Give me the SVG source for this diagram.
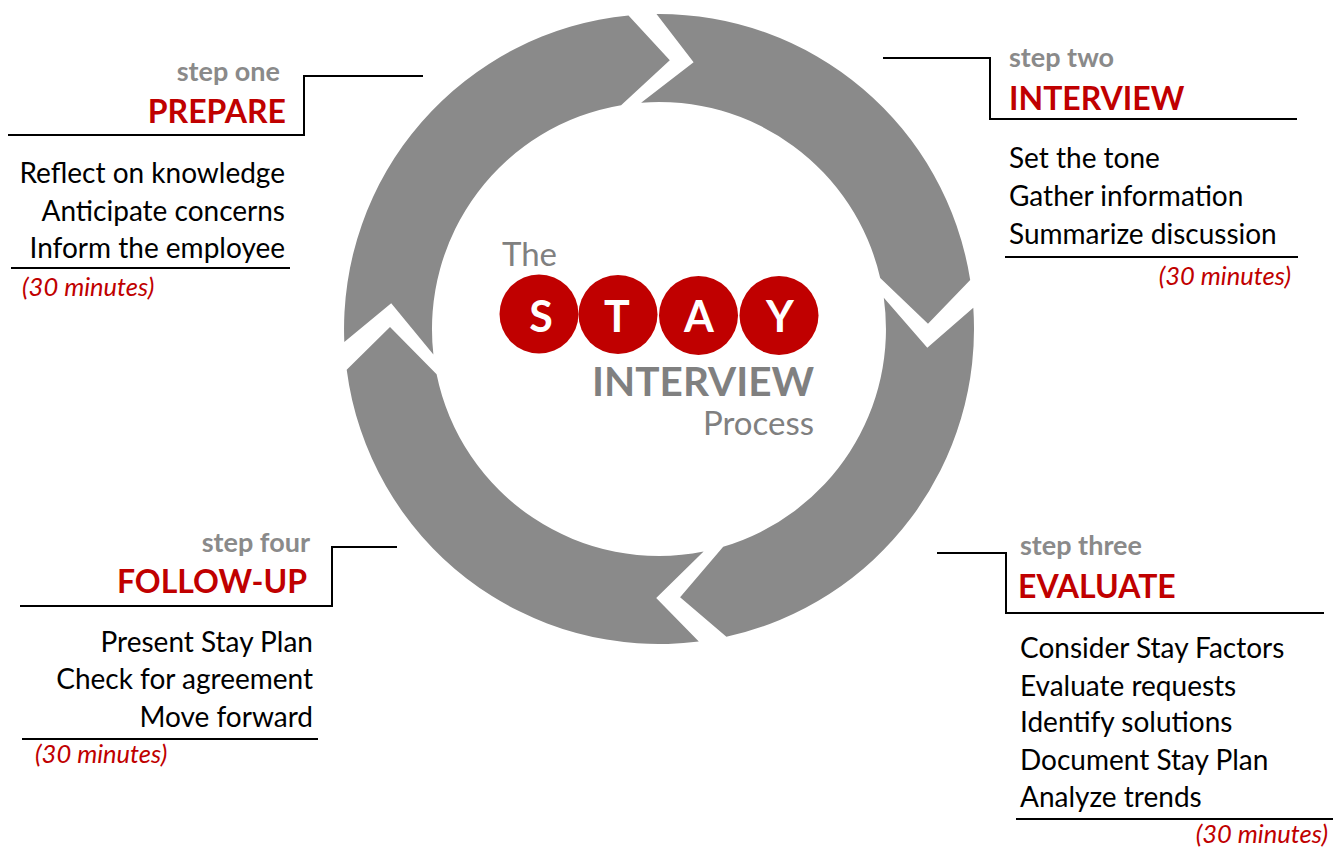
<svg xmlns="http://www.w3.org/2000/svg" width="1340" height="848" viewBox="0 0 1340 848">
<style>
 .seg{fill:#8a8a8a}
 .ln{fill:none;stroke:#000;stroke-width:2}
 text{font-family:Lato,"Open Sans","Liberation Sans",sans-serif}
 .step{font-size:27px;font-weight:700;fill:#8a8a8a}
 .head{font-size:32px;font-weight:700;fill:#c00000}
 .body{font-size:28px;fill:#000}
 .time{font-size:25.5px;font-style:italic;fill:#c00000}
 .r{text-anchor:end}
 .dot{fill:#c00000}
 .let{font-size:43px;font-weight:700;fill:#fff;text-anchor:middle}
 .gray{fill:#808080}
</style>
<rect width="1340" height="848" fill="#fff"/>
<g id="cycle">
 <path id="seg-tr" class="seg" d="M656.5,14.0 A315,315 0 0 1 970.2,280.0 L928.0,323.8 L880.2,277.9 A227,227 0 0 0 641.1,102.7 L693.6,62.2 Z"/>
 <path id="seg-br" class="seg" d="M973.3,307.8 A315,315 0 0 1 726.4,636.7 L680.1,597.2 L723.2,546.7 A227,227 0 0 0 883.8,297.7 L927.3,347.8 Z"/>
 <path id="seg-bl" class="seg" d="M698.8,641.5 A315,315 0 0 1 346.7,369.8 L390.0,327.1 L436.6,374.3 A227,227 0 0 0 703.6,551.6 L656.2,598.0 Z"/>
 <path id="seg-tl" class="seg" d="M344.3,341.9 A315,315 0 0 1 628.5,15.5 L669.8,60.2 L621.1,105.2 A227,227 0 0 0 433.4,354.4 L391.2,303.2 Z"/>
</g>
<g id="title">
 <text x="502" y="266" font-size="33" class="gray">The</text>
 <circle class="dot" cx="539" cy="314" r="39.5"/>
 <circle class="dot" cx="618" cy="314.5" r="39.5"/>
 <circle class="dot" cx="698.5" cy="315.5" r="39.5"/>
 <circle class="dot" cx="779" cy="315.5" r="39.5"/>
 <text class="let" x="541" y="331.5">S</text>
 <text class="let" x="617" y="331.5">T</text>
 <text class="let" x="699" y="331.5">A</text>
 <text class="let" x="780" y="331.5">Y</text>
 <text x="814" y="396" class="r gray" font-size="40.5" font-weight="700">INTERVIEW</text>
 <text x="814" y="435" class="r gray" font-size="33">Process</text>
</g>
<g id="connectors">
 <polyline class="ln" points="8,135 304,135 304,76 423,76"/>
 <polyline class="ln" points="883,58 990,58 990,119 1297,119"/>
 <polyline class="ln" points="20,606 332,606 332,547 397,547"/>
 <polyline class="ln" points="937,553 1006,553 1006,613 1324,613"/>
</g>
<g id="step1">
 <text class="step r" x="280" y="81">step one</text>
 <text class="head r" x="286" y="123">PREPARE</text>
 <text class="body r" x="285" y="183">Reflect on knowledge</text>
 <text class="body r" x="285" y="221">Anticipate concerns</text>
 <text class="body r" x="285" y="258">Inform the employee</text>
 <line class="ln" x1="11" y1="268" x2="290" y2="268"/>
 <text class="time" x="22" y="296">(30 minutes)</text>
</g>
<g id="step2">
 <text class="step" x="1009" y="67">step two</text>
 <text class="head" x="1009" y="110">INTERVIEW</text>
 <text class="body" x="1009" y="168">Set the tone</text>
 <text class="body" x="1009" y="206">Gather information</text>
 <text class="body" x="1009" y="244">Summarize discussion</text>
 <line class="ln" x1="1005" y1="257" x2="1298" y2="257"/>
 <text class="time r" x="1291" y="285">(30 minutes)</text>
</g>
<g id="step3">
 <text class="step" x="1020" y="555">step three</text>
 <text class="head" x="1018" y="598">EVALUATE</text>
 <text class="body" x="1020" y="658">Consider Stay Factors</text>
 <text class="body" x="1020" y="696">Evaluate requests</text>
 <text class="body" x="1020" y="732">Identify solutions</text>
 <text class="body" x="1020" y="770">Document Stay Plan</text>
 <text class="body" x="1020" y="807">Analyze trends</text>
 <line class="ln" x1="1016" y1="819" x2="1333" y2="819"/>
 <text class="time r" x="1328" y="843">(30 minutes)</text>
</g>
<g id="step4">
 <text class="step r" x="310" y="552">step four</text>
 <text class="head r" x="307" y="593">FOLLOW-UP</text>
 <text class="body r" x="313" y="652">Present Stay Plan</text>
 <text class="body r" x="313" y="689">Check for agreement</text>
 <text class="body r" x="313" y="727">Move forward</text>
 <line class="ln" x1="22" y1="739" x2="318" y2="739"/>
 <text class="time" x="35" y="763">(30 minutes)</text>
</g>
</svg>
